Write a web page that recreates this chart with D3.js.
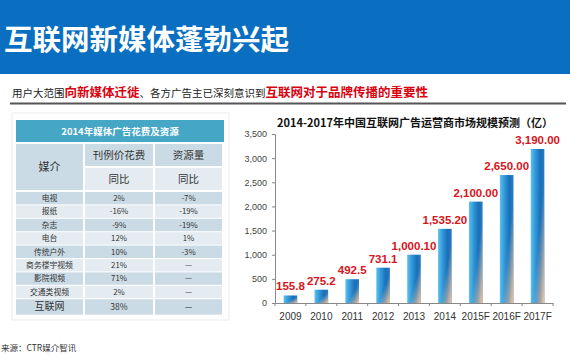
<!DOCTYPE html>
<html><head><meta charset="utf-8">
<script src="https://cdn.jsdelivr.net/npm/d3@7"></script>
<style>
html,body{margin:0;padding:0;background:#fff;}
svg{display:block;font-family:"Noto Sans CJK SC","Noto Sans",sans-serif;}
</style></head>
<body><svg id="c" width="570" height="360"></svg>
<script>
// ---- data ----
const pageTitle = "互联网新媒体蓬勃兴起";
const subtitleParts = [
  {t:"用户大范围", red:false},
  {t:"向新媒体迁徙", red:true},
  {t:"、各方广告主已深刻意识到", red:false},
  {t:"互联网对于品牌传播的重要性", red:true}
];
const tableTitle = "2014年媒体广告花费及资源";
const tableHead = ["媒介", "刊例价花费", "资源量", "同比"];
const media = ["电视","报纸","杂志","电台","传统户外","商务楼宇视频","影院视频","交通类视频","互联网"];
const costYoY = ["2%","-16%","-9%","12%","10%","21%","71%","2%","38%"];
const resourceYoY = ["-7%","-19%","-19%","1%","-3%","—","—","—","—"];
const sourceNote = "来源：CTR媒介智讯";

const chartTitle = "2014-2017年中国互联网广告运营商市场规模预测（亿）";
const years = ["2009","2010","2011","2012","2013","2014","2015F","2016F","2017F"];
const values = [155.8, 275.2, 492.5, 731.1, 1000.1, 1535.2, 2100, 2650, 3190];
const valueLabels = ["155.8","275.2","492.5","731.1","1,000.10","1,535.20","2,100.00","2,650.00","3,190.00"];
const yTicks = [0,500,1000,1500,2000,2500,3000,3500];

// ---- drawing ----
const svg = d3.select("#c");
const defs = svg.append("defs");

// header band
svg.append("rect").attr("x",0).attr("y",0).attr("width",570).attr("height",74).attr("fill","#0a6fc0");
svg.append("text").attr("x",4).attr("y",50).attr("fill","#fff")
  .attr("font-size",28.5).attr("font-weight","bold").text(pageTitle);

// subtitle
const st = svg.append("text").attr("x",12).attr("y",97);
subtitleParts.forEach(p=>{
  st.append("tspan").text(p.t)
    .attr("fill", p.red ? "#d9000f" : "#222")
    .attr("font-size", p.red ? 12.5 : 10.5)
    .attr("font-weight", p.red ? "bold" : "normal");
});
svg.append("line").attr("x1",10).attr("x2",566).attr("y1",103.5).attr("y2",103.5)
  .attr("stroke","#555").attr("stroke-width",2);

// table panel
svg.append("rect").attr("x",12).attr("y",113).attr("width",217).attr("height",207)
  .attr("fill","none").attr("stroke","#ececec");

const tx = [16, 85, 155, 224]; // column edges
const gap = 2;
const tb = svg.append("g");
// title row
tb.append("rect").attr("x",16).attr("y",120).attr("width",208).attr("height",22).attr("fill","#45a6c6");
tb.append("text").attr("x",120).attr("y",134.5).attr("text-anchor","middle").attr("fill","#fff")
  .attr("font-size",9.5).attr("font-weight","bold").text(tableTitle);
// header cells
const darkC = "#cbdbe5", lightC = "#e4ecf1";
tb.append("rect").attr("x",tx[0]).attr("y",144).attr("width",tx[1]-tx[0]-gap).attr("height",46).attr("fill",darkC);
tb.append("text").attr("x",(tx[0]+tx[1]-gap)/2).attr("y",171).attr("text-anchor","middle")
  .attr("font-size",11).attr("fill","#333").text(tableHead[0]);
[1,2].forEach(ci=>{
  tb.append("rect").attr("x",tx[ci]).attr("y",144).attr("width",tx[ci+1]-tx[ci]-gap).attr("height",22).attr("fill",darkC);
  tb.append("text").attr("x",(tx[ci]+tx[ci+1]-gap)/2).attr("y",159).attr("text-anchor","middle")
    .attr("font-size",10.5).attr("fill","#333").text(tableHead[ci]);
  tb.append("rect").attr("x",tx[ci]).attr("y",168).attr("width",tx[ci+1]-tx[ci]-gap).attr("height",22).attr("fill",lightC);
  tb.append("text").attr("x",(tx[ci]+tx[ci+1]-gap)/2).attr("y",183).attr("text-anchor","middle")
    .attr("font-size",10.5).attr("fill","#333").text(tableHead[3]);
});
// data rows
const rowH = 13.4, rowY0 = 192;
media.forEach((m,i)=>{
  const last = i === media.length-1;
  const y = rowY0 + i*rowH;
  const h = last ? 15.5 : rowH - 1;
  const fill = i%2===0 ? darkC : lightC;
  const cells = [m, costYoY[i], resourceYoY[i]];
  cells.forEach((c,ci)=>{
    tb.append("rect").attr("x",tx[ci]).attr("y",y).attr("width",tx[ci+1]-tx[ci]-gap).attr("height",h).attr("fill",fill);
    tb.append("text").attr("x",(tx[ci]+tx[ci+1]-gap)/2).attr("y",y+h/2+(last?3.5:2.8))
      .attr("text-anchor","middle").attr("fill","#333")
      .attr("font-size", last ? (ci===0?10:8.5) : 7.8).text(c);
  });
});
svg.append("text").attr("x",1).attr("y",351).attr("font-size",8.5).attr("fill","#333").text(sourceNote);

// ---- bar chart ----
const x = d3.scaleBand().domain(years).range([275,553]).paddingInner(0.56).paddingOuter(0.28);
const y = d3.scaleLinear().domain([0,3500]).range([303,134]);

svg.append("text").attr("x",415).attr("y",127).attr("text-anchor","middle")
  .attr("font-size",11).attr("font-weight","bold").attr("fill","#111").text(chartTitle);

// gradients
const g1 = defs.append("linearGradient").attr("id","cyl").attr("x1",0).attr("y1",0).attr("x2",1).attr("y2",0);
[[0,"#5cc0ec"],[0.35,"#2f97d8"],[0.7,"#1a6fb9"],[1,"#2a7cc0"]].forEach(s=>g1.append("stop").attr("offset",s[0]).attr("stop-color",s[1]));
const g2 = defs.append("linearGradient").attr("id","peach").attr("x1",0).attr("y1",0).attr("x2",1).attr("y2",1);
[[0,"#f6c79c",0],[0.58,"#f6c79c",0],[1,"#f6c79c",1]].forEach(s=>g2.append("stop").attr("offset",s[0]).attr("stop-color",s[1]).attr("stop-opacity",s[2]));

const bars = svg.append("g");
bars.selectAll("rect.b").data(values).join("rect").attr("class","b")
  .attr("x",(d,i)=>x(years[i])).attr("width",x.bandwidth())
  .attr("y",d=>y(d)).attr("height",d=>y(0)-y(d)).attr("fill","url(#cyl)");
bars.selectAll("rect.p").data(values).join("rect").attr("class","p")
  .attr("x",(d,i)=>x(years[i])).attr("width",x.bandwidth())
  .attr("y",d=>y(d)).attr("height",d=>y(0)-y(d)).attr("fill","url(#peach)");

bars.selectAll("text.v").data(values).join("text").attr("class","v")
  .attr("x",(d,i)=>x(years[i])+x.bandwidth()/2).attr("y",d=>y(d)-5)
  .attr("text-anchor","middle").attr("font-family","Liberation Sans, Arial, sans-serif")
  .attr("font-size",11.5).attr("font-weight","bold").attr("fill","#d8141c")
  .text((d,i)=>valueLabels[i]);

// y axis
const ya = svg.append("g").attr("transform","translate(275,0)")
  .call(d3.axisLeft(y).tickValues(yTicks).tickSize(3).tickPadding(5).tickFormat(d3.format(",")));
ya.select(".domain").attr("stroke","#888");
ya.selectAll(".tick line").attr("stroke","#888");
ya.selectAll("text").attr("font-family","Liberation Sans, Arial, sans-serif").attr("font-size",9).attr("fill","#444");

// x axis
const xa = svg.append("g").attr("transform","translate(0,303)")
  .call(d3.axisBottom(x).tickSize(0).tickPadding(10));
xa.select(".domain").attr("stroke","#888");
xa.selectAll("text").attr("font-family","Liberation Sans, Arial, sans-serif").attr("font-size",10).attr("fill","#333");
const step = x.step();
xa.selectAll("line.bd").data(d3.range(years.length+1)).join("line").attr("class","bd")
  .attr("x1",i=>275+i*step).attr("x2",i=>275+i*step).attr("y1",0).attr("y2",3).attr("stroke","#888");
</script></body></html>
